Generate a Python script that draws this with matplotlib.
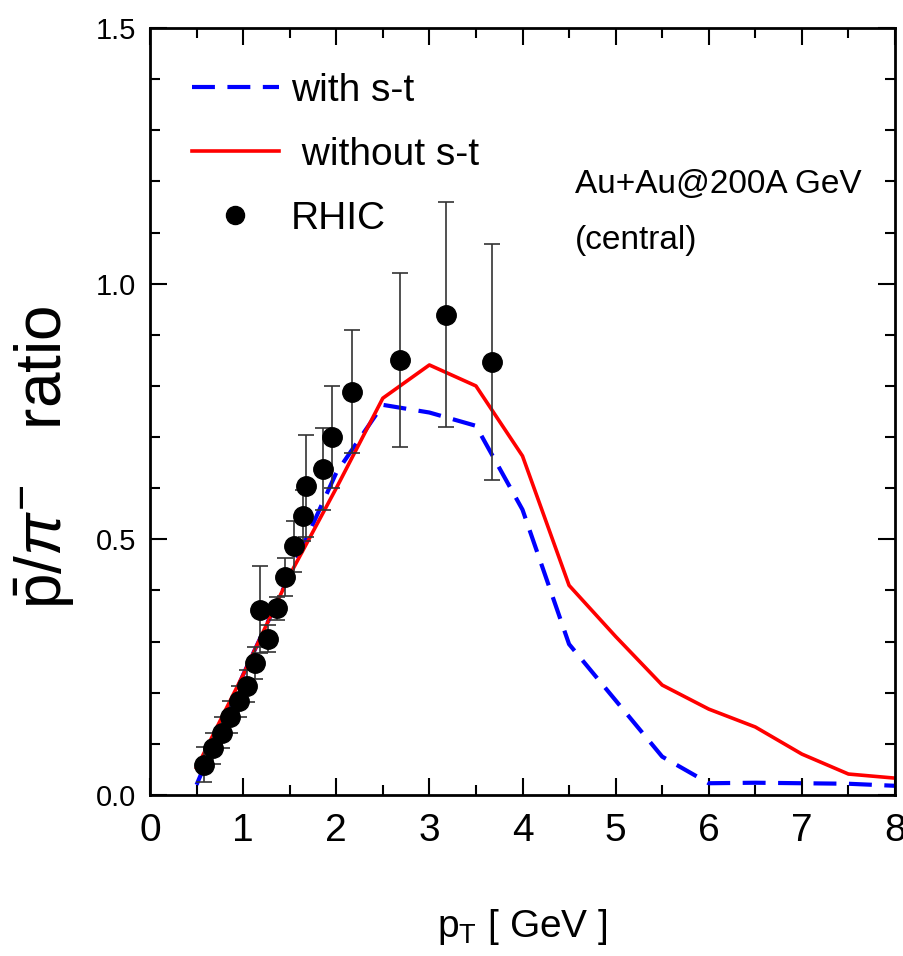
import matplotlib
matplotlib.use("Agg")
import matplotlib.pyplot as plt
from matplotlib.lines import Line2D
from matplotlib.ticker import MultipleLocator
import matplotlib.transforms as mtransforms

# RHIC data points (pT, ratio, error)
pt_data = [0.58, 0.68, 0.77, 0.86, 0.96, 1.04, 1.13, 1.185, 1.27, 1.36, 1.45, 1.547,
           1.647, 1.672, 1.86, 1.95, 2.17, 2.68, 3.18, 3.67]
ratio_data = [0.059, 0.091, 0.122, 0.152, 0.183, 0.213, 0.258, 0.362, 0.306, 0.365, 0.427, 0.486,
              0.546, 0.604, 0.637, 0.700, 0.789, 0.851, 0.939, 0.847]
err_data = [0.034, 0.031, 0.030, 0.031, 0.031, 0.031, 0.031, 0.085, 0.027, 0.022, 0.037, 0.050,
            0.05, 0.10, 0.08, 0.10, 0.12, 0.17, 0.22, 0.23]

# model curves
pt_model = [0.5, 1.0, 1.5, 2.0, 2.5, 3.0, 3.5, 4.0, 4.5, 5.0, 5.5, 6.0, 6.5, 7.0, 7.5, 8.0]
with_st = [0.02, 0.235, 0.43, 0.63, 0.763, 0.748, 0.722, 0.558, 0.295, 0.185, 0.075, 0.023,
           0.024, 0.023, 0.022, 0.018]
without_st = [0.053, 0.235, 0.43, 0.60, 0.776, 0.841, 0.80, 0.663, 0.41, 0.31, 0.215, 0.168,
              0.133, 0.08, 0.041, 0.033]

plt.rcParams["font.family"] = ["Liberation Sans", "DejaVu Sans"]
plt.rcParams["mathtext.fontset"] = "custom"
plt.rcParams["mathtext.rm"] = "Liberation Sans"
plt.rcParams["mathtext.it"] = "Liberation Sans:italic"

W, H = 904, 956
fig = plt.figure(figsize=(W / 100, H / 100), dpi=100)
ax = fig.add_axes([150 / W, 1 - 795 / H, 745 / W, 767 / H])

dash = (5.5, 3)
ax.plot(pt_model, with_st, color="#0000ff", lw=3, dashes=dash)
ax.plot(pt_model, without_st, color="#ff0000", lw=2.6)
ax.errorbar(pt_data, ratio_data, yerr=err_data, fmt="o", color="black", ms=14,
            ecolor="#333333", elinewidth=1.2, capsize=6, capthick=1.2)

ax.set_xlim(0, 8)
ax.set_ylim(0, 1.5)
ax.xaxis.set_major_locator(MultipleLocator(1))
ax.xaxis.set_minor_locator(MultipleLocator(0.5))
ax.yaxis.set_major_locator(MultipleLocator(0.5))
ax.yaxis.set_minor_locator(MultipleLocator(0.1))
ax.yaxis.set_major_formatter(plt.FormatStrFormatter("%.1f"))
ax.tick_params(which="both", direction="in", top=True, right=True, width=1.5)
ax.tick_params(which="major", length=12)
ax.tick_params(which="minor", length=7)
ax.tick_params(axis="y", labelsize=21, pad=10)
ax.tick_params(axis="x", labelsize=28, pad=13)
for sp in ax.spines.values():
    sp.set_linewidth(2)

fig.canvas.draw()
last = ax.get_xticklabels()[-1]
last.set_transform(last.get_transform() + mtransforms.ScaledTranslation(-5 / 100, 0, fig.dpi_scale_trans))

ax.set_xlabel(r"p$_\mathregular{T}$ [ GeV ]", fontsize=28)
ax.xaxis.set_label_coords(0.5, (795 - 927) / 767)
ax.xaxis.label.set_va("center")

fig.text(45 / W, 1 - 457 / H, r"$\bar{\mathrm{p}}/\pi^{-}$   ratio", rotation=90,
         fontsize=46, ha="center", va="center")

handles = [
    Line2D([], [], color="#0000ff", lw=3, dashes=dash),
    Line2D([], [], color="#ff0000", lw=2.6),
    Line2D([], [], color="black", marker="o", ms=13, ls="none"),
]
labels = ["with s-t", " without s-t", "RHIC"]
ax.legend(handles, labels, loc="upper left", bbox_to_anchor=(0.035, 0.962), frameon=False,
          fontsize=28, handlelength=2.25, handletextpad=0.3, labelspacing=0.72, borderaxespad=0)

fig.text(575 / W, 1 - 185 / H, "Au+Au@200A GeV", fontsize=24, va="center")
fig.text(575 / W, 1 - 240 / H, "(central)", fontsize=24, va="center")

fig.savefig("out.png", dpi=100)
